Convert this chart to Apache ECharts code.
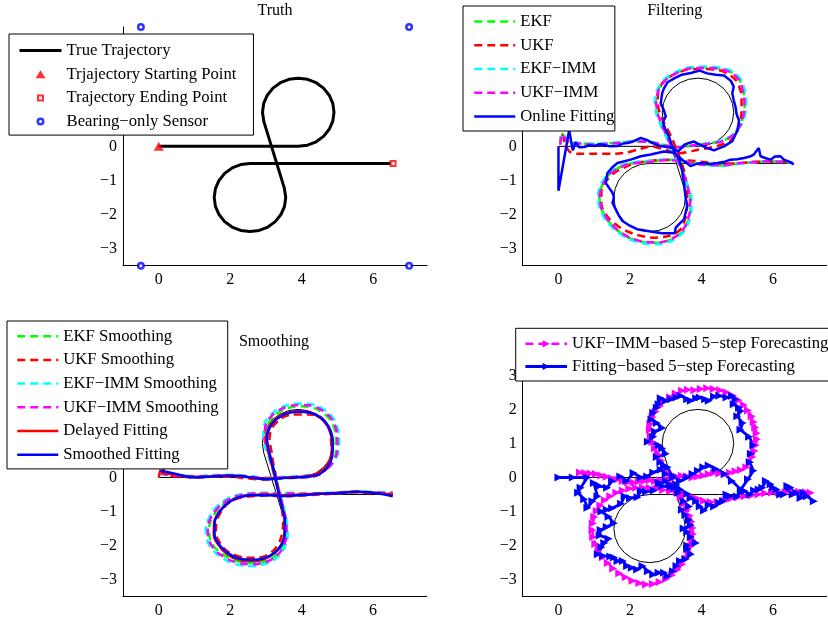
<!DOCTYPE html>
<html><head><meta charset="utf-8">
<script src="https://cdn.jsdelivr.net/npm/echarts@6/dist/echarts.min.js"></script>
<style>html,body{margin:0;padding:0;background:#fff}#c{width:828px;height:624px}</style>
</head><body><div id="c"></div>
<script>
// ---------- tick labels ----------
const xTicks = [0, 2, 4, 6];
const yTicks = [-3, -2, -1, 0, 1, 2, 3];

// ---------- truth ----------
const truePath = [
[0,0],[1,0],[2,0],[3,0],[3.9,0],
[4.159,0.034],[4.4,0.134],[4.607,0.293],[4.766,0.5],[4.866,0.741],[4.9,1],[4.866,1.259],[4.766,1.5],[4.607,1.707],[4.4,1.866],[4.159,1.966],[3.9,2],[3.641,1.966],[3.4,1.866],[3.193,1.707],[3.034,1.5],[2.934,1.259],[2.9,1],[2.939,0.724],
[3.511,-1.224],[3.55,-1.5],[3.516,-1.759],[3.416,-2],[3.257,-2.207],[3.05,-2.366],[2.809,-2.466],[2.55,-2.5],[2.291,-2.466],[2.05,-2.366],[1.843,-2.207],[1.684,-2],[1.584,-1.759],[1.55,-1.5],[1.584,-1.241],[1.684,-1],[1.843,-0.793],[2.05,-0.634],[2.291,-0.534],[2.55,-0.5],
[3.5,-0.5],[4.5,-0.5],[5.5,-0.5],[6.55,-0.5]];
const startPoint = [[0, 0]];
const endPoint = [[6.55, -0.5]];
const sensors = [[-0.5, 3.5], [7, 3.5], [-0.5, -3.5], [7, -3.5]];

// ---------- filtering ----------
const ekfFilter = [[0.05,0.05],[0.08,0.4],[0.3,0.12],[0.6,0.09],[1.0,0.06],[1.4,0.09],[1.8,0.11],[2.2,0.15],[2.6,0.12],[3.0,0.03],[3.4,-0.03],[3.8,0.03],[4.2,0.09],[4.6,0.16],[4.9,0.36],[5.1,0.66],[5.19,0.96],[5.21,1.31],[5.16,1.66],[5.06,1.96],[4.81,2.19],[4.46,2.29],[4.05,2.31],[3.64,2.29],[3.29,2.16],[2.99,1.96],[2.79,1.65],[2.72,1.3],[2.77,0.95],[2.89,0.6],[3.04,0.25],[3.19,-0.1],[3.34,-0.45],[3.49,-0.8],[3.6,-1.15],[3.69,-1.5],[3.69,-1.86],[3.61,-2.21],[3.46,-2.51],[3.16,-2.73],[2.8,-2.83],[2.39,-2.81],[1.99,-2.69],[1.64,-2.46],[1.37,-2.16],[1.19,-1.8],[1.14,-1.45],[1.24,-1.1],[1.44,-0.8],[1.79,-0.57],[2.2,-0.47],[2.6,-0.44],[3.0,-0.39],[3.4,-0.42],[3.8,-0.5],[4.2,-0.55],[4.6,-0.56],[5.0,-0.51],[5.4,-0.47],[5.8,-0.44],[6.2,-0.45],[6.55,-0.47]];
const ukfFilter = [[0.1,0.35],[0.3,-0.15],[0.6,-0.22],[1.0,-0.22],[1.5,-0.22],[1.9,-0.18],[2.2,-0.1],[2.6,0.0],[3.0,-0.1],[3.4,-0.2],[3.9,-0.1],[4.4,0.0],[4.8,0.15],[5.0,0.45],[5.1,0.8],[5.12,1.2],[5.1,1.6],[4.95,1.95],[4.6,2.2],[4.1,2.27],[3.6,2.25],[3.2,2.1],[2.9,1.85],[2.78,1.5],[2.8,1.1],[2.95,0.7],[3.15,0.3],[3.3,-0.1],[3.45,-0.5],[3.55,-0.9],[3.6,-1.3],[3.6,-1.7],[3.55,-2.1],[3.4,-2.45],[3.1,-2.62],[2.7,-2.68],[2.2,-2.6],[1.75,-2.4],[1.4,-2.1],[1.2,-1.7],[1.2,-1.3],[1.35,-1.0],[1.6,-0.75],[2.0,-0.55],[2.4,-0.45],[2.9,-0.4],[3.4,-0.4],[4.0,-0.45],[4.5,-0.5],[5.0,-0.5],[5.5,-0.45],[6.0,-0.45],[6.5,-0.45]];
const ekfImmFilter = [[0.05,0.08],[0.12,0.38],[0.3,0.13],[0.6,0.1],[1.0,0.08],[1.4,0.1],[1.8,0.13],[2.2,0.16],[2.6,0.13],[3.0,0.04],[3.4,-0.02],[3.8,0.04],[4.2,0.1],[4.6,0.18],[4.93,0.38],[5.14,0.68],[5.23,0.98],[5.25,1.32],[5.2,1.68],[5.09,1.98],[4.83,2.22],[4.47,2.32],[4.05,2.34],[3.63,2.31],[3.27,2.18],[2.96,1.97],[2.76,1.66],[2.69,1.3],[2.74,0.94],[2.87,0.58],[3.03,0.23],[3.18,-0.12],[3.34,-0.47],[3.5,-0.82],[3.62,-1.17],[3.72,-1.52],[3.72,-1.88],[3.64,-2.23],[3.48,-2.54],[3.17,-2.77],[2.8,-2.87],[2.38,-2.85],[1.97,-2.72],[1.61,-2.48],[1.33,-2.17],[1.15,-1.81],[1.1,-1.45],[1.2,-1.08],[1.42,-0.77],[1.78,-0.55],[2.2,-0.45],[2.6,-0.42],[3.0,-0.38],[3.4,-0.41],[3.8,-0.5],[4.2,-0.56],[4.6,-0.57],[5.0,-0.52],[5.4,-0.48],[5.8,-0.45],[6.2,-0.46],[6.55,-0.48]];
const ukfImmFilter = [[0.05,0.05],[0.1,0.35],[0.3,0.1],[0.6,0.08],[1.0,0.05],[1.4,0.08],[1.8,0.1],[2.2,0.14],[2.6,0.12],[3.0,0.02],[3.4,-0.03],[3.8,0.03],[4.2,0.08],[4.6,0.15],[4.9,0.35],[5.1,0.65],[5.18,0.95],[5.2,1.3],[5.15,1.65],[5.05,1.95],[4.8,2.18],[4.45,2.28],[4.05,2.3],[3.65,2.28],[3.3,2.15],[3.0,1.95],[2.8,1.65],[2.73,1.3],[2.78,0.95],[2.9,0.6],[3.05,0.25],[3.2,-0.1],[3.35,-0.45],[3.5,-0.8],[3.6,-1.15],[3.68,-1.5],[3.68,-1.85],[3.6,-2.2],[3.45,-2.5],[3.15,-2.72],[2.8,-2.82],[2.4,-2.8],[2.0,-2.68],[1.65,-2.45],[1.38,-2.15],[1.2,-1.8],[1.15,-1.45],[1.25,-1.1],[1.45,-0.8],[1.8,-0.58],[2.2,-0.48],[2.6,-0.45],[3.0,-0.4],[3.4,-0.42],[3.8,-0.5],[4.2,-0.55],[4.6,-0.55],[5.0,-0.5],[5.4,-0.47],[5.8,-0.44],[6.2,-0.45],[6.55,-0.47]];
const onlineFitting = [[0,0],[0,-1.3],[0.3,0.48],[0.4,-0.12],[0.48,0.12],[0.58,-0.03],[0.72,-0.02],[0.85,0.03],[1.0,0.01],[1.15,0.06],[1.27,0.04],[1.45,0.0],[1.65,0.01],[1.8,0.08],[1.93,0.1],[2.1,0.15],[2.3,0.25],[2.49,0.18],[2.62,0.1],[2.76,0.04],[2.9,0.0],[3.04,-0.02],[3.23,-0.06],[3.35,-0.15],[3.51,0.04],[3.65,0.1],[3.79,0.14],[3.95,0.05],[4.16,-0.05],[4.35,-0.12],[4.5,-0.05],[4.63,0.0],[4.75,0.08],[4.86,0.15],[4.95,0.35],[5.0,0.45],[5.05,0.75],[4.98,0.95],[4.95,1.16],[4.9,1.35],[4.86,1.56],[4.9,1.75],[4.82,1.92],[4.63,2.08],[4.4,2.1],[4.16,2.14],[3.95,2.22],[3.7,2.15],[3.45,2.1],[3.25,2.0],[3.05,1.88],[2.95,1.7],[2.9,1.56],[2.86,1.26],[2.95,1.05],[3.0,0.88],[2.92,0.72],[2.95,0.58],[3.09,0.29],[3.18,0.0],[3.27,-0.2],[3.37,-0.39],[3.46,-0.68],[3.48,-0.9],[3.51,-1.07],[3.55,-1.46],[3.6,-1.75],[3.51,-2.14],[3.4,-2.25],[3.28,-2.38],[3.25,-2.55],[2.9,-2.55],[2.58,-2.5],[2.2,-2.43],[1.95,-2.3],[1.79,-2.19],[1.7,-2.05],[1.65,-1.95],[1.51,-1.66],[1.55,-1.5],[1.51,-1.36],[1.32,-1.07],[1.37,-0.78],[1.5,-0.62],[1.65,-0.49],[2.02,-0.39],[2.3,-0.29],[2.58,-0.24],[2.95,-0.15],[3.23,-0.19],[3.46,-0.39],[3.6,-0.5],[3.69,-0.58],[3.9,-0.5],[4.06,-0.49],[4.25,-0.52],[4.44,-0.49],[4.65,-0.45],[4.81,-0.39],[5.0,-0.38],[5.19,-0.34],[5.35,-0.3],[5.46,-0.24],[5.6,-0.05],[5.65,-0.29],[5.8,-0.35],[5.93,-0.39],[6.05,-0.3],[6.21,-0.29],[6.3,-0.39],[6.45,-0.45],[6.58,-0.53]];

// ---------- smoothing ----------
const ekfSmooth = [[0.05,0.1],[0.5,0.05],[1.0,0.02],[1.5,0.04],[2.0,0.05],[2.5,0.02],[3.0,-0.03],[3.5,-0.01],[4.0,0.02],[4.4,0.08],[4.68,0.23],[4.87,0.48],[4.96,0.78],[4.96,1.08],[4.93,1.38],[4.81,1.67],[4.57,1.92],[4.28,2.06],[3.95,2.09],[3.62,2.04],[3.33,1.89],[3.11,1.67],[3.01,1.39],[3.01,1.1],[3.08,0.8],[3.17,0.45],[3.26,0.1],[3.34,-0.25],[3.43,-0.6],[3.51,-0.95],[3.57,-1.3],[3.57,-1.65],[3.48,-1.99],[3.28,-2.28],[2.99,-2.45],[2.6,-2.51],[2.21,-2.46],[1.87,-2.31],[1.58,-2.07],[1.43,-1.78],[1.41,-1.5],[1.49,-1.2],[1.68,-0.91],[1.97,-0.67],[2.32,-0.54],[2.7,-0.49],[3.2,-0.48],[3.7,-0.48],[4.2,-0.49],[4.7,-0.48],[5.2,-0.45],[5.6,-0.43],[6.0,-0.45],[6.55,-0.46]];
const ukfSmooth = [[0.0,0.0],[0.1,0.32],[0.22,0.05],[0.6,0.03],[1.0,0.0],[1.5,0.02],[2.0,0.02],[2.5,-0.03],[3.0,-0.06],[3.5,-0.02],[4.0,0.0],[4.4,0.05],[4.65,0.2],[4.8,0.45],[4.83,0.8],[4.82,1.1],[4.78,1.4],[4.65,1.65],[4.45,1.82],[4.15,1.85],[3.85,1.85],[3.55,1.8],[3.3,1.62],[3.15,1.4],[3.1,1.1],[3.15,0.8],[3.2,0.45],[3.27,0.1],[3.33,-0.25],[3.4,-0.6],[3.45,-0.95],[3.48,-1.3],[3.45,-1.65],[3.35,-1.95],[3.15,-2.2],[2.9,-2.33],[2.55,-2.36],[2.2,-2.3],[1.9,-2.15],[1.7,-1.9],[1.6,-1.6],[1.62,-1.3],[1.75,-1.0],[1.95,-0.75],[2.25,-0.6],[2.6,-0.55],[3.0,-0.53],[3.5,-0.55],[4.0,-0.53],[4.5,-0.5],[5.0,-0.47],[5.5,-0.43],[6.0,-0.47],[6.55,-0.48]];
const ekfImmSmooth = [[0.05,0.14],[0.5,0.08],[1.0,0.05],[1.5,0.07],[2.0,0.08],[2.5,0.05],[3.0,0.0],[3.5,0.02],[4.0,0.05],[4.42,0.12],[4.73,0.27],[4.94,0.52],[5.04,0.82],[5.05,1.12],[5.01,1.42],[4.89,1.73],[4.63,1.99],[4.32,2.14],[3.95,2.17],[3.58,2.12],[3.27,1.96],[3.03,1.72],[2.93,1.41],[2.93,1.1],[3.01,0.79],[3.12,0.45],[3.22,0.1],[3.31,-0.25],[3.4,-0.6],[3.49,-0.95],[3.58,-1.3],[3.61,-1.66],[3.53,-2.03],[3.32,-2.34],[3.0,-2.53],[2.6,-2.6],[2.18,-2.55],[1.82,-2.39],[1.51,-2.13],[1.35,-1.82],[1.32,-1.5],[1.41,-1.18],[1.61,-0.87],[1.93,-0.62],[2.3,-0.49],[2.7,-0.45],[3.2,-0.45],[3.7,-0.45],[4.2,-0.46],[4.7,-0.45],[5.2,-0.42],[5.6,-0.4],[6.0,-0.42],[6.55,-0.44]];
const ukfImmSmooth = [[0.05,0.12],[0.5,0.06],[1.0,0.03],[1.5,0.05],[2.0,0.06],[2.5,0.03],[3.0,-0.02],[3.5,0.0],[4.0,0.03],[4.4,0.1],[4.7,0.25],[4.9,0.5],[5.0,0.8],[5.0,1.1],[4.97,1.4],[4.85,1.7],[4.6,1.95],[4.3,2.1],[3.95,2.13],[3.6,2.08],[3.3,1.93],[3.07,1.7],[2.97,1.4],[2.97,1.1],[3.05,0.8],[3.15,0.45],[3.25,0.1],[3.33,-0.25],[3.42,-0.6],[3.5,-0.95],[3.57,-1.3],[3.58,-1.65],[3.5,-2.0],[3.3,-2.3],[3.0,-2.48],[2.6,-2.55],[2.2,-2.5],[1.85,-2.35],[1.55,-2.1],[1.4,-1.8],[1.37,-1.5],[1.45,-1.2],[1.65,-0.9],[1.95,-0.65],[2.3,-0.52],[2.7,-0.47],[3.2,-0.47],[3.7,-0.47],[4.2,-0.48],[4.7,-0.47],[5.2,-0.44],[5.6,-0.42],[6.0,-0.44],[6.55,-0.45]];
const delayedFitting = [[0.05,0.15],[0.4,0.1],[0.8,0.03],[1.2,0.02],[1.6,0.04],[2.0,0.05],[2.4,0.02],[2.8,-0.03],[3.2,-0.03],[3.6,0.0],[4.0,0.02],[4.35,0.08],[4.62,0.25],[4.8,0.55],[4.85,0.9],[4.83,1.2],[4.73,1.5],[4.53,1.75],[4.23,1.9],[3.9,1.95],[3.55,1.88],[3.27,1.72],[3.08,1.47],[3.0,1.15],[3.05,0.85],[3.13,0.5],[3.22,0.15],[3.3,-0.2],[3.38,-0.55],[3.46,-0.9],[3.52,-1.25],[3.52,-1.6],[3.44,-1.95],[3.24,-2.22],[2.93,-2.4],[2.57,-2.45],[2.22,-2.4],[1.9,-2.24],[1.67,-1.98],[1.54,-1.67],[1.55,-1.34],[1.67,-1.04],[1.9,-0.78],[2.2,-0.6],[2.55,-0.52],[3.0,-0.5],[3.5,-0.52],[4.0,-0.5],[4.5,-0.47],[5.0,-0.45],[5.5,-0.42],[6.0,-0.45],[6.55,-0.5]];
const smoothedFitting = [[0.05,0.2],[0.3,0.15],[0.7,0.05],[1.0,0.0],[1.4,0.02],[1.8,0.05],[2.2,0.05],[2.6,0.0],[3.0,-0.05],[3.4,-0.02],[3.8,0.0],[4.2,0.03],[4.5,0.1],[4.72,0.3],[4.85,0.6],[4.87,0.9],[4.85,1.2],[4.75,1.5],[4.55,1.75],[4.25,1.9],[3.9,1.93],[3.55,1.87],[3.28,1.7],[3.1,1.45],[3.03,1.15],[3.07,0.85],[3.15,0.5],[3.23,0.15],[3.3,-0.2],[3.38,-0.55],[3.46,-0.9],[3.53,-1.25],[3.53,-1.6],[3.45,-1.95],[3.25,-2.2],[2.95,-2.37],[2.6,-2.42],[2.25,-2.38],[1.93,-2.22],[1.7,-1.98],[1.56,-1.68],[1.56,-1.35],[1.68,-1.05],[1.9,-0.78],[2.2,-0.6],[2.55,-0.52],[3.0,-0.52],[3.5,-0.54],[4.0,-0.52],[4.5,-0.48],[5.0,-0.46],[5.5,-0.42],[6.0,-0.45],[6.55,-0.55]];

// ---------- forecasting ----------
const ukfImmForecast = [[0.6,0.15],[0.75,0.13],[0.9,0.12],[1.05,0.1],[1.2,0.06],[1.35,0.02],[1.5,-0.02],[1.65,-0.06],[1.8,-0.1],[1.95,-0.14],[2.1,-0.15],[2.25,-0.12],[2.4,-0.1],[2.55,-0.08],[2.7,-0.1],[2.85,-0.08],[3.0,-0.05],[3.15,0.0],[3.3,0.03],[3.45,0.05],[3.6,0.04],[3.75,0.0],[3.9,0.03],[4.05,0.06],[4.2,0.1],[4.35,0.14],[4.5,0.12],[4.65,0.1],[4.8,0.14],[4.95,0.18],[5.1,0.22],[5.25,0.3],[5.35,0.45],[5.42,0.6],[5.48,0.78],[5.52,0.95],[5.55,1.12],[5.54,1.3],[5.5,1.47],[5.46,1.63],[5.4,1.8],[5.3,1.97],[5.18,2.13],[5.04,2.27],[4.88,2.4],[4.7,2.5],[4.52,2.56],[4.34,2.6],[4.16,2.62],[3.98,2.6],[3.8,2.56],[3.62,2.58],[3.45,2.55],[3.28,2.47],[3.12,2.36],[2.97,2.24],[2.84,2.1],[2.72,1.94],[2.63,1.77],[2.57,1.58],[2.56,1.4],[2.58,1.22],[2.63,1.04],[2.7,0.86],[2.78,0.68],[2.87,0.5],[2.96,0.32],[3.05,0.14],[3.14,-0.04],[3.23,-0.22],[3.32,-0.4],[3.42,-0.58],[3.51,-0.76],[3.6,-0.94],[3.67,-1.12],[3.72,-1.3],[3.75,-1.48],[3.76,-1.66],[3.74,-1.84],[3.7,-2.02],[3.64,-2.2],[3.56,-2.38],[3.46,-2.55],[3.33,-2.71],[3.18,-2.86],[3.01,-2.98],[2.83,-3.07],[2.64,-3.13],[2.45,-3.14],[2.26,-3.1],[2.07,-3.03],[1.88,-2.93],[1.7,-2.81],[1.53,-2.67],[1.38,-2.51],[1.24,-2.34],[1.12,-2.15],[1.03,-1.95],[0.97,-1.75],[0.95,-1.55],[0.96,-1.35],[1.0,-1.16],[1.07,-0.98],[1.17,-0.82],[1.3,-0.67],[1.45,-0.55],[1.62,-0.45],[1.8,-0.38],[1.98,-0.33],[2.17,-0.3],[2.36,-0.29],[2.55,-0.3],[2.74,-0.33],[2.93,-0.37],[3.12,-0.4],[3.31,-0.43],[3.5,-0.48],[3.69,-0.55],[3.88,-0.62],[4.07,-0.68],[4.26,-0.72],[4.45,-0.72],[4.64,-0.68],[4.83,-0.62],[5.02,-0.58],[5.21,-0.55],[5.4,-0.53],[5.59,-0.5],[5.78,-0.46],[5.97,-0.44],[6.16,-0.44],[6.35,-0.43],[6.54,-0.41],[6.73,-0.42],[6.92,-0.43],[7.05,-0.45]];
const fittingForecast = [[0,0],[0.4,0.0],[0.81,0.0],[0.62,-0.3],[0.55,-0.45],[0.72,-0.64],[0.81,-0.89],[0.95,-0.7],[1.09,-0.55],[0.99,-0.16],[1.15,-0.25],[1.36,-0.3],[1.5,-0.1],[1.73,0.03],[1.9,-0.1],[2.1,0.13],[2.3,0.0],[2.48,0.03],[2.65,0.15],[2.86,0.23],[3.0,0.1],[3.2,0.05],[3.4,-0.1],[3.6,0.0],[3.75,0.1],[3.9,0.2],[4.05,0.3],[4.2,0.35],[4.4,0.25],[4.65,0.1],[4.85,-0.1],[5.1,-0.35],[5.3,-0.05],[5.45,0.2],[5.35,0.45],[5.38,0.7],[5.45,0.95],[5.33,1.2],[5.09,1.4],[5.15,1.6],[5.0,1.8],[5.1,1.95],[5.05,2.05],[4.9,2.15],[4.95,2.3],[4.85,2.4],[4.7,2.35],[4.5,2.4],[4.35,2.38],[4.2,2.25],[4.1,2.3],[3.95,2.35],[3.85,2.33],[3.7,2.25],[3.6,2.3],[3.42,2.4],[3.3,2.35],[3.15,2.3],[3.0,2.25],[2.86,2.33],[2.8,2.15],[2.75,2.05],[2.65,1.9],[2.6,1.7],[2.75,1.6],[2.9,1.45],[2.7,1.35],[2.65,1.2],[2.5,1.05],[2.8,0.95],[2.9,0.85],[3.0,0.7],[2.75,0.6],[2.85,0.45],[2.95,0.35],[3.05,0.3],[3.2,0.0],[3.0,-0.1],[3.1,-0.2],[3.25,-0.3],[3.35,-0.45],[3.5,-0.7],[3.65,-0.85],[3.45,-0.95],[3.55,-1.1],[3.65,-1.25],[3.7,-1.4],[3.5,-1.5],[3.6,-1.6],[3.7,-1.75],[3.84,-1.92],[3.6,-2.0],[3.6,-2.1],[3.7,-2.25],[3.55,-2.4],[3.4,-2.45],[3.3,-2.6],[3.2,-2.75],[3.05,-2.9],[2.95,-2.8],[2.8,-2.8],[2.65,-2.85],[2.5,-2.75],[2.35,-2.6],[2.2,-2.7],[2.05,-2.65],[1.92,-2.6],[1.8,-2.45],[1.65,-2.45],[1.55,-2.35],[1.45,-2.32],[1.25,-2.3],[1.1,-2.25],[1.2,-2.05],[1.28,-1.92],[1.4,-1.8],[1.15,-1.7],[1.18,-1.54],[1.35,-1.45],[1.55,-1.34],[1.4,-1.15],[1.2,-1.0],[1.35,-0.95],[1.5,-0.9],[1.75,-0.77],[1.85,-0.55],[2.0,-0.6],[2.21,-0.58],[2.3,-0.4],[2.45,-0.42],[2.67,-0.38],[2.8,-0.15],[2.9,-0.25],[3.14,-0.28],[3.3,-0.2],[3.4,-0.35],[3.6,-0.48],[3.7,-0.6],[3.85,-0.7],[3.95,-0.85],[4.07,-0.97],[4.2,-0.8],[4.35,-0.85],[4.5,-0.75],[4.6,-0.7],[4.7,-0.5],[4.8,-0.55],[4.99,-0.56],[5.1,-0.45],[5.2,-0.4],[5.35,-0.5],[5.47,-0.38],[5.6,-0.35],[5.7,-0.3],[5.8,-0.1],[5.93,-0.2],[6.0,-0.3],[6.1,-0.35],[6.2,-0.5],[6.3,-0.5],[6.4,-0.25],[6.49,-0.3],[6.55,-0.5],[6.65,-0.45],[6.77,-0.6],[6.85,-0.45],[6.95,-0.55],[7.14,-0.7]];

// ---------- names ----------
const M = '\u2212';
const legend1 = ['True Trajectory', 'Trjajectory Starting Point', 'Trajectory Ending Point', 'Bearing' + M + 'only Sensor'];
const legend2 = ['EKF', 'UKF', 'EKF' + M + 'IMM', 'UKF' + M + 'IMM', 'Online Fitting'];
const legend3 = ['EKF Smoothing', 'UKF Smoothing', 'EKF' + M + 'IMM Smoothing', 'UKF' + M + 'IMM Smoothing', 'Delayed Fitting', 'Smoothed Fitting'];
const legend4 = ['UKF' + M + 'IMM' + M + 'based 5' + M + 'step Forecasting', 'Fitting' + M + 'based 5' + M + 'step Forecasting'];
const titles = ['Truth', 'Filtering', 'Smoothing', ''];

// ---------- styling ----------
const FONT = 'Liberation Serif';
const DASH = [8, 5];
const fmt = v => (v < 0 ? M + (-v) : String(v));
const gridPos = [
  {left: 123, top: 27, width: 304, height: 238.7},
  {left: 522.7, top: 27, width: 304, height: 238.7},
  {left: 123, top: 358.3, width: 303.7, height: 238.4},
  {left: 522.7, top: 358.3, width: 304, height: 238.4}
];
const grid = gridPos.map(g => Object.assign({outerBoundsMode: 'none', containLabel: false}, g));
const axisCommon = {
  axisLine: {onZero: false, lineStyle: {color: '#000', width: 1}},
  axisTick: {show: false}, splitLine: {show: false}
};
const xAxis = gridPos.map((g, i) => Object.assign({type: 'value', gridIndex: i, min: -1, max: 7.5,
  axisLabel: {customValues: xTicks, formatter: fmt, color: '#000', fontFamily: FONT, fontSize: 16, margin: 6}}, axisCommon));
const yAxis = gridPos.map((g, i) => Object.assign({type: 'value', gridIndex: i, min: -3.5, max: 3.5,
  axisLabel: {customValues: yTicks, formatter: fmt, color: '#000', fontFamily: FONT, fontSize: 16, margin: 6}}, axisCommon));

function line(name, data, gi, color, width, dashed) {
  return {type: 'line', name: name, data: data, xAxisIndex: gi, yAxisIndex: gi, symbol: 'none',
    lineStyle: {color: color, width: width, type: dashed ? DASH : 'solid'}, itemStyle: {color: color},
    silent: true, animation: false, z: 2};
}
function marked(name, data, gi, color, dashed, width) {
  return {type: 'line', name: name, data: data, xAxisIndex: gi, yAxisIndex: gi, symbol: 'triangle',
    symbolSize: 8, symbolRotate: -90, showSymbol: true, showAllSymbol: true,
    lineStyle: {color: color, width: width, type: dashed ? DASH : 'solid'}, itemStyle: {color: color},
    silent: true, animation: false};
}

const series = [
  line('True Trajectory', truePath, 0, '#000', 3, false),
  {type: 'scatter', name: legend1[1], data: startPoint, xAxisIndex: 0, yAxisIndex: 0, symbol: 'triangle', symbolSize: [10, 9], itemStyle: {color: '#f00'}, clip: false, silent: true, animation: false},
  {type: 'scatter', name: legend1[2], data: endPoint, xAxisIndex: 0, yAxisIndex: 0, symbol: 'rect', symbolSize: 5, itemStyle: {color: '#fff', borderColor: '#f00', borderWidth: 2}, clip: false, silent: true, animation: false},
  {type: 'scatter', name: legend1[3], data: sensors, xAxisIndex: 0, yAxisIndex: 0, symbol: 'circle', symbolSize: 5.5, itemStyle: {color: '#fff', borderColor: '#00f', borderWidth: 2.5}, clip: false, silent: true, animation: false},

  line('truth-f', truePath, 1, '#000', 1, false),
  line(legend2[0], ekfFilter, 1, '#00ff00', 2.5, true),
  line(legend2[1], ukfFilter, 1, '#ff0000', 2.5, true),
  line(legend2[2], ekfImmFilter, 1, '#00ffff', 2.5, true),
  line(legend2[3], ukfImmFilter, 1, '#ff00ff', 2.5, true),
  line(legend2[4], onlineFitting, 1, '#0000ff', 2.5, false),

  line('truth-s', truePath, 2, '#000', 1, false),
  line(legend3[0], ekfSmooth, 2, '#00ff00', 2.5, true),
  line(legend3[1], ukfSmooth, 2, '#ff0000', 2.5, true),
  line(legend3[2], ekfImmSmooth, 2, '#00ffff', 2.5, true),
  line(legend3[3], ukfImmSmooth, 2, '#ff00ff', 2.5, true),
  line(legend3[4], delayedFitting, 2, '#ff0000', 2.5, false),
  line(legend3[5], smoothedFitting, 2, '#0000ff', 2.5, false),

  line('truth-p', truePath, 3, '#000', 1, false),
  marked(legend4[0], ukfImmForecast, 3, '#ff00ff', true, 2.5),
  marked(legend4[1], fittingForecast, 3, '#0000ff', false, 2.8)
];
series.forEach(s => {
  if (s.xAxisIndex === 2 && s.name.indexOf('truth') < 0) s.smooth = 0.4;
  if (s.xAxisIndex === 1 && s.name !== 'Online Fitting' && s.name.indexOf('truth') < 0) s.smooth = 0.25;
});

const legendCommon = {
  orient: 'vertical', borderColor: '#000', borderWidth: 1, backgroundColor: '#fff', borderRadius: 0,
  itemWidth: 41, selectedMode: false, z: 10, symbolKeepAspect: true,
  textStyle: {fontFamily: FONT, fontSize: 16.7, color: '#000', lineHeight: 16},
  lineStyle: {width: 'inherit'}
};
const hideSym = n => ({name: n, itemStyle: {opacity: 0}});
const ICON_TRI = 'path://M0,0 M12,12 M6,2 L11,10 L1,10 Z';
const ICON_SQ = 'path://M0,0 M12,12 M3.5,3.5 L8.5,3.5 L8.5,8.5 L3.5,8.5 Z';
const ICON_CIR = 'path://M0,0 M12,12 M3.25,6 A2.75,2.75 0 1 1 8.75,6 A2.75,2.75 0 1 1 3.25,6 Z';
const legend = [
  Object.assign({}, legendCommon, {left: 9, top: 34, itemWidth: 42, itemHeight: 12, itemGap: 6.7, padding: [8, 17, 5, 9],
    data: [hideSym(legend1[0]),
      {name: legend1[1], icon: ICON_TRI},
      {name: legend1[2], icon: ICON_SQ, itemStyle: {borderWidth: 2}},
      {name: legend1[3], icon: ICON_CIR, itemStyle: {borderWidth: 2.5}}]}),
  Object.assign({}, legendCommon, {left: 463, top: 6, itemHeight: 12, itemGap: 6.75, padding: [7, 0.5, 6, 10],
    data: legend2.map(hideSym)}),
  Object.assign({}, legendCommon, {left: 7, top: 321, itemHeight: 12, itemGap: 6.7, padding: [6.7, 9, 5.7, 9],
    data: legend3.map(hideSym)}),
  Object.assign({}, legendCommon, {left: 515.7, top: 328.3, itemWidth: 41.7, itemHeight: 9, itemGap: 5.7, padding: [7, 10, 6, 8.3],
    data: legend4})
];

const titleCenters = [[275, 2.5], [674.7, 2.5], [274, 334], [674.7, 334]];
const title = titles.map((t, i) => ({text: t, left: titleCenters[i][0], top: titleCenters[i][1], textAlign: 'center', padding: 0,
  textStyle: {fontFamily: FONT, fontSize: 16, fontWeight: 'normal', color: '#000'}}));

const chart = echarts.init(document.getElementById('c'), null, {renderer: 'canvas'});
chart.setOption({animation: false, backgroundColor: '#fff', title: title, grid: grid, xAxis: xAxis, yAxis: yAxis, legend: legend, series: series});
</script>
</body></html>
